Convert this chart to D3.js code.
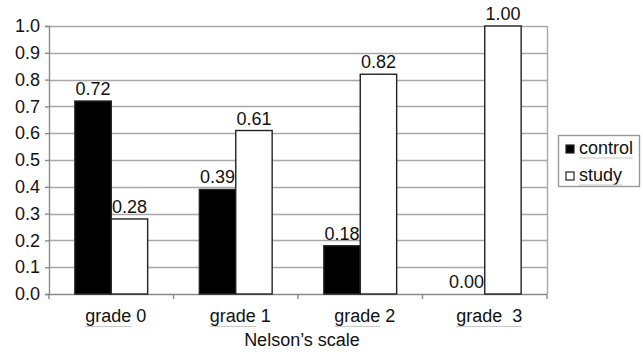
<!DOCTYPE html>
<html>
<head>
<meta charset="utf-8">
<script src="https://cdn.jsdelivr.net/npm/d3@7"></script>
<style>
  html, body { margin: 0; padding: 0; background: #fff; }
  svg { display: block; }
  text { font-family: "Liberation Sans", Arial, sans-serif; fill: #111; }
</style>
</head>
<body>
<svg id="chart" width="643" height="354"></svg>
<script>
// Nelson's scale grades and proportion of subjects per group
const categories = ["grade 0", "grade 1", "grade 2", "grade  3"];
const seriesNames = ["control", "study"];
const control = [0.72, 0.39, 0.18, 0.00];
const study = [0.28, 0.61, 0.82, 1.00];
const yTicks = [0, 0.1, 0.2, 0.3, 0.4, 0.5, 0.6, 0.7, 0.8, 0.9, 1.0];
const xTitle = "Nelson\u2019s scale";

const FS = 18;
const svg = d3.select("#chart");
const margin = { left: 49, right: 96, top: 26, bottom: 60 };
const W = 643, H = 354;
const plotR = W - margin.right, plotB = H - margin.bottom;

const x = d3.scaleBand().domain(categories).range([margin.left, plotR]).paddingInner(0).paddingOuter(0);
const xs = d3.scaleBand().domain(seriesNames).range([0, x.bandwidth()]).paddingInner(0).paddingOuter(0.71);
const y = d3.scaleLinear().domain([0, 1]).range([plotB, margin.top]);

const fill = { control: "#000", study: "#fff" };
const data = categories.map((c, i) => ({ cat: c, values: [
  { key: "control", v: control[i] }, { key: "study", v: study[i] }
]}));

// horizontal gridlines
svg.append("g").selectAll("line").data(yTicks.slice(1)).join("line")
  .attr("x1", margin.left).attr("x2", plotR)
  .attr("y1", d => Math.round(y(d)) + 0.5).attr("y2", d => Math.round(y(d)) + 0.5)
  .attr("stroke", "#a8a8a8").attr("stroke-width", 1.4);
// right border of plot area
svg.append("line").attr("x1", plotR + 0.5).attr("x2", plotR + 0.5)
  .attr("y1", y(1)).attr("y2", plotB)
  .attr("stroke", "#a8a8a8").attr("stroke-width", 1.4);

// y axis
const yAxis = svg.append("g").attr("transform", `translate(${margin.left},0)`)
  .call(d3.axisLeft(y).tickValues(yTicks).tickFormat(d3.format(".1f")).tickSize(4).tickPadding(5));
yAxis.select(".domain").attr("stroke", "#8a8a8a").attr("stroke-width", 1.4);
yAxis.selectAll(".tick line").attr("stroke", "#8a8a8a").attr("stroke-width", 1.4);
yAxis.selectAll("text").attr("font-size", FS).attr("fill", "#111")
  .attr("font-family", "Liberation Sans, Arial, sans-serif");

// x axis: ticks at band boundaries
const xAxis = svg.append("g").attr("transform", `translate(0,${plotB})`);
xAxis.append("line").attr("x1", margin.left).attr("x2", plotR)
  .attr("y1", 0.5).attr("y2", 0.5).attr("stroke", "#8a8a8a").attr("stroke-width", 1.4);
const bounds = categories.map(c => x(c)).concat([plotR]);
xAxis.selectAll("line.tk").data(bounds).join("line").attr("class", "tk")
  .attr("x1", d => d).attr("x2", d => d).attr("y1", 0).attr("y2", 5)
  .attr("stroke", "#8a8a8a").attr("stroke-width", 1.4);
const catLabels = xAxis.selectAll("text.cat").data(categories).join("text").attr("class", "cat")
  .attr("x", d => x(d) + x.bandwidth() / 2 + 4.5).attr("y", 28)
  .attr("text-anchor", "middle").attr("font-size", FS)
  .style("white-space", "pre").text(d => d);

// faint underline beneath category labels
catLabels.each(function(d) {
  const bb = this.getBBox();
  const n = d.endsWith("3") ? d.length : 5;
  const w = this.getSubStringLength(0, n);
  xAxis.append("line").attr("x1", bb.x).attr("x2", bb.x + w)
    .attr("y1", 32.5).attr("y2", 32.5).attr("stroke", "#c8c8c8").attr("stroke-width", 1);
});

svg.append("text").attr("x", (margin.left + plotR) / 2 + 4).attr("y", 346)
  .attr("text-anchor", "middle").attr("font-size", FS).text(xTitle);

// bars
const groups = svg.append("g").selectAll("g").data(data).join("g")
  .attr("transform", d => `translate(${x(d.cat)},0)`);
groups.selectAll("rect").data(d => d.values).join("rect")
  .attr("x", d => xs(d.key)).attr("width", xs.bandwidth())
  .attr("y", d => y(d.v)).attr("height", d => plotB - y(d.v))
  .attr("fill", d => fill[d.key]).attr("stroke", "#222").attr("stroke-width", 1.4);
groups.selectAll("text").data(d => d.values).join("text")
  .attr("x", d => xs(d.key) + xs.bandwidth() / 2)
  .attr("y", d => y(d.v) - 6)
  .attr("text-anchor", "middle").attr("font-size", FS)
  .text(d => d3.format(".2f")(d.v));

// legend
const lg = svg.append("g").attr("transform", "translate(558,135)");
lg.append("rect").attr("x", 0.5).attr("y", 0.5).attr("width", 81).attr("height", 51)
  .attr("fill", "#fff").attr("stroke", "#999").attr("stroke-width", 1.4);
const items = lg.selectAll("g").data(seriesNames).join("g")
  .attr("transform", (d, i) => `translate(8,${10 + i * 27})`);
items.append("rect").attr("width", 8).attr("height", 8)
  .attr("fill", d => fill[d]).attr("stroke", "#222").attr("stroke-width", 1.2);
items.append("text").attr("x", 13).attr("y", 8.5).attr("font-size", FS).text(d => d);
items.each(function() {
  const t = d3.select(this).select("text").node();
  const w = t.getComputedTextLength();
  d3.select(this).append("line").attr("x1", 13).attr("x2", 13 + w)
    .attr("y1", 13).attr("y2", 13).attr("stroke", "#c8c8c8").attr("stroke-width", 1);
});
</script>
</body>
</html>
